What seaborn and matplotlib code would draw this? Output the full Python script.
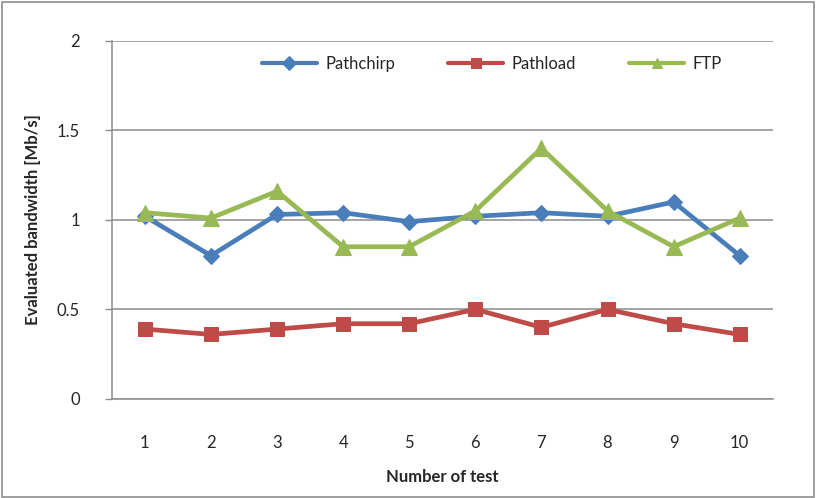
import pandas as pd
import numpy as np
import matplotlib
matplotlib.use("Agg")
import matplotlib.pyplot as plt
from matplotlib.patches import Rectangle
import seaborn as sns

sns.set_theme(style="white")
plt.rcParams['font.family'] = ['Lato', 'DejaVu Sans']

# Data
tests = [1, 2, 3, 4, 5, 6, 7, 8, 9, 10]
pathchirp = [1.02, 0.80, 1.03, 1.04, 0.99, 1.02, 1.04, 1.02, 1.10, 0.80]
pathload = [0.39, 0.36, 0.39, 0.42, 0.42, 0.50, 0.40, 0.50, 0.42, 0.36]
ftp = [1.04, 1.01, 1.16, 0.85, 0.85, 1.05, 1.40, 1.05, 0.85, 1.01]
series_names = ['Pathchirp', 'Pathload', 'FTP']
yticks = [0, 0.5, 1, 1.5, 2]

df = pd.DataFrame({
    'test': tests * 3,
    'value': pathchirp + pathload + ftp,
    'series': sum([[n] * len(tests) for n in series_names], []),
})

colors = {'Pathchirp': '#4A7EBB', 'Pathload': '#BE4B48', 'FTP': '#98B954'}
markers = {'Pathchirp': 'D', 'Pathload': 's', 'FTP': '^'}
msizes = {'Pathchirp': 8, 'Pathload': 10, 'FTP': 11}
text_c = '#262626'
grid_c = '#8c8c8c'

fig = plt.figure(figsize=(8.16, 4.98), dpi=100)
ax = fig.add_axes([0.137, 0.199, 0.81, 0.719])

for name in series_names:
    sub = df[df['series'] == name]
    sns.lineplot(data=sub, x='test', y='value', ax=ax, color=colors[name],
                 marker=markers[name], markersize=msizes[name],
                 markeredgecolor=colors[name], linewidth=3.4, label=name)

ax.set_xlim(0.5, 10.5)
ax.set_ylim(0, 2)
ax.set_yticks(yticks)
ax.set_yticklabels(['0', '0.5', '1', '1.5', '2'])
ax.yaxis.grid(True, color=grid_c, linewidth=1.1)
ax.set_axisbelow(True)

ax.set_xticks(tests)
ax.set_xticks(np.arange(0.5, 11, 1), minor=True)
ax.tick_params(axis='x', which='major', length=0, pad=26, labelsize=12, colors=text_c)
ax.tick_params(axis='x', which='minor', length=5, width=1, color=grid_c, direction='out')
ax.tick_params(axis='y', length=5, width=1, color=grid_c, pad=18, labelsize=12,
               labelcolor=text_c, left=True)

for s in ['top', 'right']:
    ax.spines[s].set_visible(False)
for s in ['left', 'bottom']:
    ax.spines[s].set_color(grid_c)
    ax.spines[s].set_linewidth(1.1)

ax.set_xlabel('Number of test', fontsize=12, fontweight='bold', color=text_c, labelpad=13)
ax.set_ylabel('Evaluated bandwidth [Mb/s]', fontsize=12, fontweight='bold', color=text_c, labelpad=11)

leg = ax.legend(loc='upper center', bbox_to_anchor=(0.575, 1.0), ncol=3, frameon=False,
                fontsize=12, handlelength=3.3, columnspacing=3.2, handletextpad=0.5)
for t in leg.get_texts():
    t.set_color(text_c)
for h in leg.legend_handles:
    h.set_linewidth(3)
    h.set_markersize(7.5)

fig.patches.append(Rectangle((0.002, 0.003), 0.995, 0.993, transform=fig.transFigure,
                             fill=False, edgecolor='#8c8c8c', linewidth=1.2))

fig.savefig('out.png', dpi=100)
